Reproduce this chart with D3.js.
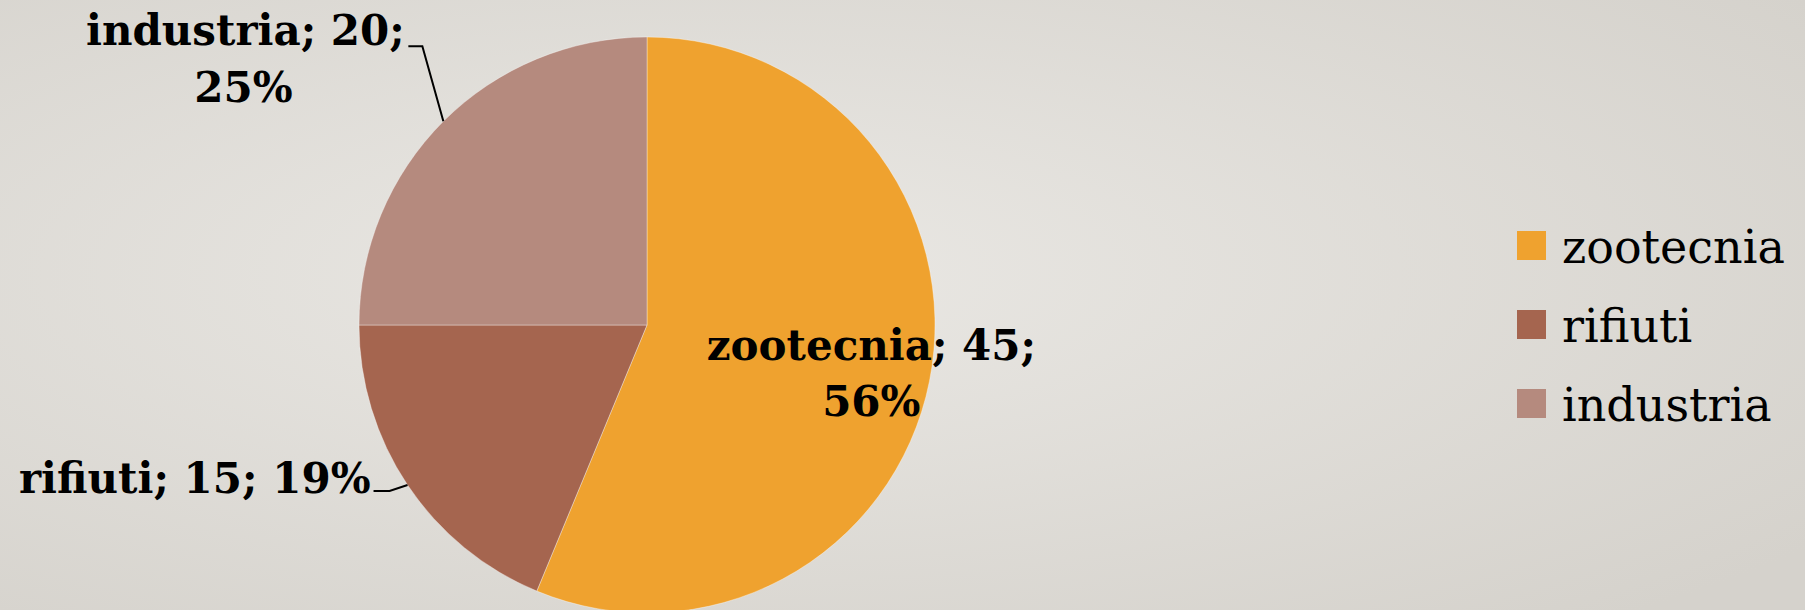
<!DOCTYPE html>
<html>
<head>
<meta charset="utf-8">
<script src="https://cdn.jsdelivr.net/npm/d3@7"></script>
<style>
  html, body { margin: 0; padding: 0; overflow: hidden; }
  svg { display: block; }
</style>
</head>
<body>
<script>
// dati della torta
var categorie = ["zootecnia", "rifiuti", "industria"];
var valori = [45, 15, 20];
var percentuali = ["56%", "19%", "25%"];
var colori = ["#EFA22F", "#A5654F", "#B58A7E"];

var width = 1805;
var height = 610;
var cx = 647, cy = 325, raggio = 288;

var svg = d3.select("body").append("svg")
    .attr("width", width)
    .attr("height", height);

// sfondo sfumato
var defs = svg.append("defs");
var grad = defs.append("radialGradient")
    .attr("id", "sfondo")
    .attr("cx", "40%").attr("cy", "45%").attr("r", "75%");
grad.append("stop").attr("offset", "0%").attr("stop-color", "#EAE8E4");
grad.append("stop").attr("offset", "100%").attr("stop-color", "#D5D2CC");
svg.append("rect").attr("width", width).attr("height", height).attr("fill", "url(#sfondo)");

var colore = d3.scaleOrdinal().domain(categorie).range(colori);

var pie = d3.pie().sort(null).value(function(d) { return d.valore; });
var dati = categorie.map(function(c, i) {
    return { nome: c, valore: valori[i], perc: percentuali[i] };
});
var archi = pie(dati);

var arc = d3.arc().innerRadius(0).outerRadius(raggio);

var g = svg.append("g").attr("transform", "translate(" + cx + "," + cy + ")");

g.selectAll("path.fetta")
    .data(archi)
    .enter()
        .append("path")
        .attr("class", "fetta")
        .attr("d", arc)
        .attr("fill", function(d) { return colore(d.data.nome); })
        .attr("stroke", "rgba(255,255,255,0.35)")
        .attr("stroke-width", 1);

var fontEtichetta = "'DejaVu Serif', serif";
var dimEtichetta = 42;

// punto sul bordo a meta' fetta
function puntoBordo(d, r) {
    var a = (d.startAngle + d.endAngle) / 2;
    return [Math.sin(a) * r, -Math.cos(a) * r];
}

// etichetta zootecnia (dentro)
var zoo = archi[0];
var pz = puntoBordo(zoo, raggio * 0.78);
var tz = g.append("text")
    .attr("font-family", fontEtichetta)
    .attr("font-weight", "bold")
    .attr("font-size", dimEtichetta)
    .attr("text-anchor", "middle")
    .attr("fill", "#000");
tz.append("tspan").attr("x", pz[0] + 4).attr("y", pz[1] - 9)
    .text(zoo.data.nome + "; " + zoo.data.valore + ";");
tz.append("tspan").attr("x", pz[0] + 4).attr("y", pz[1] + 47)
    .text(zoo.data.perc);

// etichetta rifiuti (fuori, una riga)
var rif = archi[1];
var pr = puntoBordo(rif, raggio);
g.append("path")
    .attr("d", d3.line()([pr, [pr[0] - 18, pr[1] + 6], [pr[0] - 34, pr[1] + 6]]))
    .attr("fill", "none").attr("stroke", "#000").attr("stroke-width", 2);
g.append("text")
    .attr("font-family", fontEtichetta)
    .attr("font-weight", "bold")
    .attr("font-size", dimEtichetta)
    .attr("text-anchor", "end")
    .attr("x", pr[0] - 37)
    .attr("y", pr[1] + 8)
    .text(rif.data.nome + "; " + rif.data.valore + "; " + rif.data.perc);

// etichetta industria (fuori, due righe)
var ind = archi[2];
var pi = puntoBordo(ind, raggio);
g.append("path")
    .attr("d", d3.line()([pi, [pi[0] - 21, pi[1] - 75], [pi[0] - 35, pi[1] - 75]]))
    .attr("fill", "none").attr("stroke", "#000").attr("stroke-width", 2);
var ti = g.append("text")
    .attr("font-family", fontEtichetta)
    .attr("font-weight", "bold")
    .attr("font-size", dimEtichetta)
    .attr("text-anchor", "middle");
ti.append("tspan").attr("x", pi[0] - 198).attr("y", pi[1] - 76)
    .text(ind.data.nome + "; " + ind.data.valore + ";");
ti.append("tspan").attr("x", pi[0] - 200).attr("y", pi[1] - 19)
    .text(ind.data.perc);

// legenda
var legenda = svg.append("g").attr("transform", "translate(1517,231)");
var voci = legenda.selectAll("g")
    .data(categorie)
    .enter()
        .append("g")
        .attr("transform", function(d, i) { return "translate(0," + i * 79 + ")"; });
voci.append("rect")
    .attr("width", 29).attr("height", 29)
    .attr("fill", function(d) { return colore(d); });
voci.append("text")
    .attr("x", 45)
    .attr("y", 32)
    .attr("font-family", fontEtichetta)
    .attr("font-size", 46)
    .attr("fill", "#000")
    .text(function(d) { return d; });
</script>
</body>
</html>
